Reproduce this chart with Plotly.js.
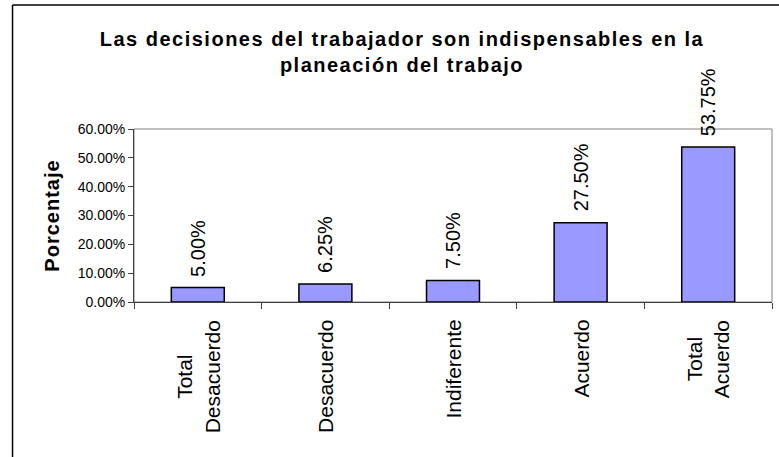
<!DOCTYPE html>
<html>
<head>
<meta charset="utf-8">
<script src="https://cdn.plot.ly/plotly-3.0.1.min.js"></script>
<style>
  body { margin: 0; background: #fff; }
  #chart { width: 779px; height: 457px; }
  /* the original renders its titles a bit wider than Arial */
  .gtitle { letter-spacing: 1.5px; }
  .ytitle { letter-spacing: 1px; }
</style>
</head>
<body>
<div id="chart"></div>
<script>
// data
var categories = ['Total Desacuerdo', 'Desacuerdo', 'Indiferente', 'Acuerdo', 'Total Acuerdo'];
var categoryLabels = ['Total<br>Desacuerdo', 'Desacuerdo', 'Indiferente', 'Acuerdo', 'Total<br>Acuerdo'];
var percentages = [0.05, 0.0625, 0.075, 0.275, 0.5375];

var font = 'Liberation Sans, Arial, sans-serif';

var trace = {
    type: 'bar',
    x: categories,
    y: percentages,
    marker: {
        color: '#9999FF',
        line: { color: '#000000', width: 1.5 }
    },
    hoverinfo: 'none'
};

// value labels above the bars, rotated like the original
var valueLabels = categories.map(function (cat, i) {
    return {
        x: cat,
        y: percentages[i],
        xref: 'x',
        yref: 'y',
        text: (percentages[i] * 100).toFixed(2) + '%',
        textangle: -90,
        showarrow: false,
        xanchor: 'center',
        yanchor: 'bottom',
        yshift: 9,
        font: { family: font, size: 20, color: '#000' }
    };
});

// category names under the axis, rotated
var axisLabels = categories.map(function (cat, i) {
    return {
        x: cat,
        y: 0,
        xref: 'x',
        yref: 'paper',
        text: categoryLabels[i],
        textangle: -90,
        align: 'center',
        showarrow: false,
        xanchor: 'center',
        yanchor: 'top',
        yshift: -16,
        font: { family: font, size: 21, color: '#000' }
    };
});

var layout = {
    width: 779,
    height: 457,
    margin: { l: 134, r: 7, t: 129, b: 155 },
    paper_bgcolor: '#ffffff',
    plot_bgcolor: '#ffffff',
    showlegend: false,
    bargap: 0.585,
    font: { family: font, color: '#000' },
    title: {
        text: 'Las decisiones del trabajador son indispensables en la<br>planeación del trabajo',
        font: { family: font, size: 20, weight: 'bold', color: '#000' },
        xref: 'container',
        yref: 'container',
        x: 0.516,
        xanchor: 'center',
        y: 0.9,
        yanchor: 'top'
    },
    xaxis: {
        type: 'category',
        showticklabels: false,
        ticks: 'outside',
        tickson: 'boundaries',
        ticklen: 6,
        tickcolor: '#404040',
        showline: true,
        linecolor: '#404040',
        linewidth: 1,
        showgrid: false,
        zeroline: false,
        fixedrange: true
    },
    yaxis: {
        title: {
            text: 'Porcentaje',
            font: { family: font, size: 20, weight: 'bold', color: '#000' },
            standoff: 12
        },
        range: [0, 0.6],
        dtick: 0.1,
        tickformat: '.2%',
        ticks: 'outside',
        ticklen: 5,
        tickcolor: '#404040',
        tickfont: { family: font, size: 14, color: '#000' },
        showline: true,
        linecolor: '#404040',
        linewidth: 1,
        showgrid: false,
        zeroline: false,
        fixedrange: true
    },
    annotations: valueLabels.concat(axisLabels),
    shapes: [
        // grey frame of the plot area
        { type: 'rect', xref: 'paper', yref: 'paper', x0: 0, x1: 1, y0: 0, y1: 1,
          line: { color: '#808080', width: 1 }, layer: 'below' },
        // outer chart border (left and top edges only are inside the picture)
        { type: 'line', xref: 'paper', yref: 'paper', x0: -0.1904, x1: -0.1904, y0: -1, y1: 1.7168,
          line: { color: '#000', width: 1.5 } },
        { type: 'line', xref: 'paper', yref: 'paper', x0: -0.1904, x1: 1.05, y0: 1.7168, y1: 1.7168,
          line: { color: '#000', width: 1.5 } }
    ]
};

Plotly.newPlot('chart', [trace], layout, { displayModeBar: false, staticPlot: true });
</script>
</body>
</html>
